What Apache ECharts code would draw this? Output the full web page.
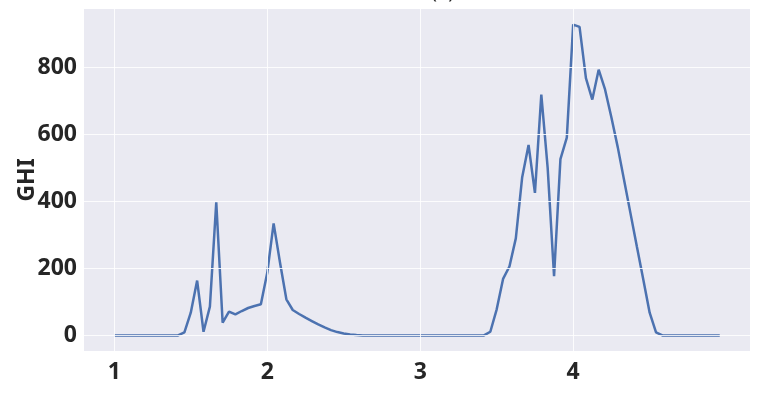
<!DOCTYPE html>
<html>
<head>
<meta charset="utf-8">
<script src="https://cdn.jsdelivr.net/npm/echarts@6/dist/echarts.min.js"></script>
<style>
  html, body { margin: 0; padding: 0; background: #ffffff; }
  #chart { width: 763px; height: 398px; }
</style>
</head>
<body>
<div id="chart"></div>
<script>
// Hourly global horizontal irradiance over four days (day index on the x axis)
const HOURS_PER_DAY = 24;
const ghi = [
  0, 0, 0, 0, 0, 0, 0, 0, 0, 0, 0,
  9, 68, 164, 11, 86, 398, 38, 71, 63, 73, 82, 88, 93,
  187, 335, 218, 108, 76, 64, 53, 43, 33, 24, 16, 10, 6, 3, 1,
  0, 0, 0, 0, 0, 0, 0, 0, 0, 0, 0, 0, 0, 0, 0, 0, 0, 0, 0, 0,
  11, 78, 169, 206, 290, 473, 569, 426, 720, 500, 177, 527, 591,
  929, 922, 769, 705, 794, 735, 651, 562, 463, 364, 265, 167, 68, 9,
  0, 0, 0, 0, 0, 0, 0, 0, 0, 0
];
const xTicks = [1, 2, 3, 4];
const yTicks = [0, 200, 400, 600, 800];

const points = ghi.map((v, i) => [1 + i / HOURS_PER_DAY, v]);

const labelFont = {
  fontFamily: 'Noto Sans',
  fontWeight: 'bold',
  fontSize: 23,
  color: '#262626'
};

const gridLines = [
  ...xTicks.map(v => ({ xAxis: v })),
  ...yTicks.map(v => ({ yAxis: v }))
];

const chart = echarts.init(document.getElementById('chart'), null, { renderer: 'canvas' });
chart.setOption({
  animation: false,
  backgroundColor: '#ffffff',
  title: {
    text: '(a)',
    left: 426,
    top: -23,
    textStyle: { fontFamily: 'Noto Sans', fontWeight: 'normal', fontSize: 20, color: '#262626' }
  },
  grid: {
    left: 84, right: 13, top: 9, bottom: 47,
    containLabel: false,
    outerBoundsMode: 'none',
    show: true, backgroundColor: '#EAEAF2', borderWidth: 0
  },
  xAxis: {
    type: 'value',
    min: 0.802,
    max: 5.156,
    axisLine: { show: false },
    axisTick: { show: false },
    splitLine: { show: false },
    axisLabel: Object.assign({ customValues: xTicks, margin: 10 }, labelFont)
  },
  yAxis: {
    type: 'value',
    min: -46.5,
    max: 975.5,
    name: 'GHI',
    nameLocation: 'middle',
    nameRotate: 90,
    nameGap: 45,
    nameMoveOverlap: false,
    nameTextStyle: labelFont,
    axisLine: { show: false },
    axisTick: { show: false },
    splitLine: { show: false },
    axisLabel: Object.assign({ customValues: yTicks, margin: 7 }, labelFont)
  },
  series: [
    {
      // white grid lines under the data line
      type: 'line',
      data: [],
      z: 1,
      silent: true,
      markLine: {
        silent: true,
        symbol: 'none',
        label: { show: false },
        lineStyle: { color: '#ffffff', width: 1, type: 'solid', opacity: 0.85 },
        data: gridLines
      }
    },
    {
      type: 'line',
      data: points,
      z: 3,
      showSymbol: false,
      lineStyle: { color: '#4C72B0', width: 2.5 },
      itemStyle: { color: '#4C72B0' }
    }
  ]
});
</script>
</body>
</html>
